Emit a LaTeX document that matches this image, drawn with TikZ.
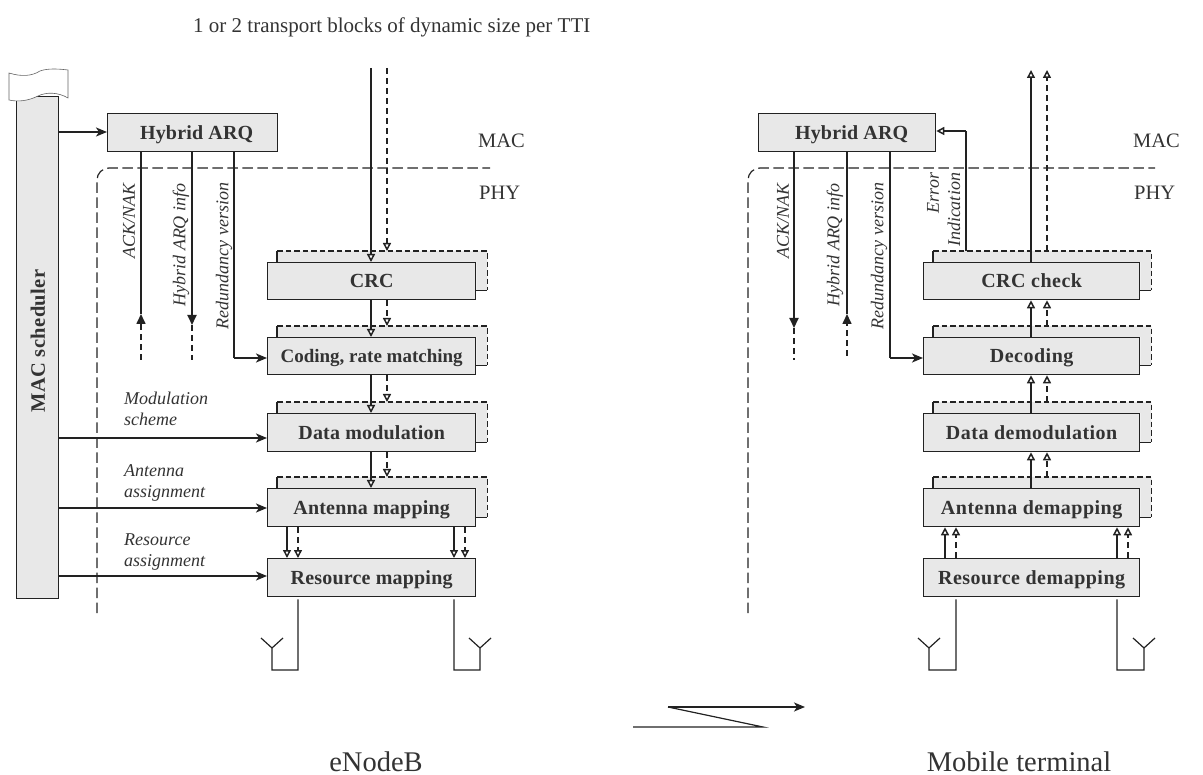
\documentclass[tikz,border=0pt]{standalone}
\usepackage{fontspec}
\setmainfont{Liberation Serif}
\usetikzlibrary{arrows.meta}
\definecolor{boxg}{HTML}{E8E8E8}
\definecolor{ink}{HTML}{222222}
\definecolor{txt}{HTML}{333333}
\newcommand{\boldtext}{\fontsize{20}{22}\selectfont\bfseries\addfontfeature{LetterSpace=1}}
\newcommand{\boldwide}{\fontsize{20}{22}\selectfont\bfseries\addfontfeature{LetterSpace=2.5}}
\tikzset{
  x=1pt,y=-1pt,
  box/.style={draw=ink,line width=1.3pt,fill=boxg,inner sep=0pt,text height=13pt,text depth=0pt,
     font=\boldtext,text=txt,anchor=north west},
  wbox/.style={box,font=\boldwide},
  slabel/.style={inner sep=0pt,font=\fontsize{18}{21}\selectfont\itshape,text=txt,align=left},
  rlabel/.style={inner sep=0pt,font=\fontsize{18}{21}\selectfont\itshape,text=txt,rotate=90},
  plain/.style={inner sep=0pt,font=\fontsize{20.5}{22}\selectfont,text=txt},
  big/.style={inner sep=0pt,font=\fontsize{28.5}{30}\selectfont,text=txt},
  solidline/.style={draw=ink,line width=1.9pt},
  thinline/.style={draw=ink,line width=1.2pt},
  dashline/.style={draw=ink,line width=1.6pt,dash pattern=on 6pt off 4pt},
  phyline/.style={draw=ink,line width=1.2pt,dash pattern=on 10.5pt off 4.5pt},
  backdash/.style={draw=ink,line width=1.6pt,dash pattern=on 5.5pt off 3pt},
  opentip/.style={-{Triangle[open,length=8pt,width=8pt,fill=white,line width=1.5pt]}},
  stealthtip/.style={-{Stealth[length=11pt,width=9pt,inset=3pt]}},
  filltip/.style={-{Triangle[length=10pt,width=9pt]}},
}
\newcommand{\backbox}[1]{%
  \fill[boxg] ([xshift=10pt]#1.north west) -- ([xshift=10pt,yshift=11pt]#1.north west)
     -- ([xshift=11pt,yshift=11pt]#1.north east) -- ([xshift=11pt,yshift=10pt]#1.south east)
     -- ([yshift=10pt]#1.south east) -- (#1.north east) -- cycle;
  \draw[backdash] ([xshift=10pt,yshift=11pt]#1.north west) -- ([xshift=11pt,yshift=11pt]#1.north east) -- ([xshift=11pt,yshift=10pt]#1.south east);
  \draw[thinline] ([xshift=10pt]#1.north west) -- ([xshift=10pt,yshift=11pt]#1.north west);
  \draw[thinline] ([yshift=10pt]#1.south east) -- ([xshift=11pt,yshift=10pt]#1.south east);
}
\begin{document}
\begin{tikzpicture}
\useasboundingbox (0,0) rectangle (1203,775);
% scheduler
\node[draw=ink,line width=1.3pt,fill=boxg,minimum width=42pt,minimum height=502pt,inner sep=0pt,anchor=north west] (sched) at (16,96) {};
\draw[draw=ink!70,line width=0.6pt,fill=white] (9,73) .. controls (22,77) and (32,76) .. (40,71) .. controls (48,68) and (60,69) .. (68,70) -- (68,98) .. controls (58,92) and (46,92) .. (38,96) .. controls (28,101) and (18,102) .. (9,100) -- cycle;
\node[rotate=90,inner sep=0pt,font=\fontsize{20.5}{22}\selectfont\bfseries\addfontfeature{LetterSpace=2},text=txt] (schedlabel) at (38,341) {MAC scheduler};
% text
\node[plain,font=\fontsize{21}{23}\selectfont,anchor=base west] (toptext) at (193,33) {1 or 2 transport blocks of dynamic size per TTI};
\node[plain,anchor=base west] (mac1) at (478,148) {MAC};
\node[plain,anchor=base west] (phy1) at (479,200) {PHY};
\node[plain,anchor=base west] (mac2) at (1133,148) {MAC};
\node[plain,anchor=base west] (phy2) at (1134,200) {PHY};
\node[big,anchor=base] (enb) at (376,771) {eNodeB};
\node[big,anchor=base] (ue) at (1019,771) {Mobile terminal};
% PHY border
\coordinate (pl1) at (97,613); \coordinate (pl1c) at (97,168); \coordinate (pl1e) at (490,168);
\coordinate (pl2) at (748,613); \coordinate (pl2c) at (748,168); \coordinate (pl2e) at (1155,168);
\draw[phyline,rounded corners=12pt] (pl1) -- (pl1c) -- (pl1e);
\draw[phyline,rounded corners=12pt] (pl2) -- (pl2c) -- (pl2e);
% left boxes
\node[box,minimum width=170pt,minimum height=38pt] (harq1) at (107,113) {\hspace*{8pt}Hybrid ARQ};
\node[box,minimum width=208pt,minimum height=37pt] (crc) at (267,262) {CRC};
\node[box,minimum width=208pt,minimum height=37pt,font=\fontsize{19}{21}\selectfont\bfseries] (cod) at (267,337) {Coding, rate matching};
\node[box,minimum width=208pt,minimum height=38pt] (mod) at (267,413) {Data modulation};
\node[box,minimum width=208pt,minimum height=38pt] (ant) at (267,488) {Antenna mapping};
\node[box,minimum width=208pt,minimum height=38pt] (res) at (267,558) {Resource mapping};
\backbox{crc}\backbox{cod}\backbox{mod}\backbox{ant}
% right boxes
\node[box,minimum width=177pt,minimum height=38pt] (harq2) at (758,113) {\hspace*{9pt}Hybrid ARQ};
\node[wbox,minimum width=216pt,minimum height=37pt] (crcc) at (923,262) {CRC check};
\node[wbox,minimum width=216pt,minimum height=37pt] (dec) at (923,337) {Decoding};
\node[wbox,minimum width=216pt,minimum height=38pt] (dem) at (923,413) {Data demodulation};
\node[wbox,minimum width=216pt,minimum height=38pt] (adm) at (923,488) {Antenna demapping};
\node[wbox,minimum width=216pt,minimum height=38pt] (rdm) at (923,558) {Resource demapping};
\backbox{crcc}\backbox{dec}\backbox{dem}\backbox{adm}
% guide coordinates
\coordinate (a) at (371,68); \coordinate (b) at (387,68);
\coordinate (c) at (1031,70); \coordinate (d) at (1047,70);
% left main chain
\draw[solidline,opentip] (a) -- (crc.north -| a);
\draw[dashline,opentip] (b) -- ([yshift=11pt]crc.north -| b);
\draw[solidline,opentip] (crc.south -| a) -- (cod.north -| a);
\draw[dashline,opentip] (crc.south -| b) -- ([yshift=11pt]cod.north -| b);
\draw[solidline,opentip] (cod.south -| a) -- (mod.north -| a);
\draw[dashline,opentip] (cod.south -| b) -- ([yshift=11pt]mod.north -| b);
\draw[solidline,opentip] (mod.south -| a) -- (ant.north -| a);
\draw[dashline,opentip] (mod.south -| b) -- ([yshift=11pt]ant.north -| b);
\coordinate (e) at (287,0); \coordinate (f) at (298,0); \coordinate (g) at (454,0); \coordinate (h) at (465,0);
\draw[solidline,opentip] (ant.south -| e) -- (res.north -| e);
\draw[dashline,opentip] (ant.south -| f) -- (res.north -| f);
\draw[solidline,opentip] (ant.south -| g) -- (res.north -| g);
\draw[dashline,opentip] (ant.south -| h) -- (res.north -| h);
% scheduler arrows
\coordinate (sy1) at (0,132); \coordinate (sy2) at (0,438); \coordinate (sy3) at (0,508); \coordinate (sy4) at (0,576);
\draw[solidline,stealthtip] (sched.east |- sy1) -- (harq1.west |- sy1);
\draw[solidline,stealthtip] (sched.east |- sy2) -- (mod.west |- sy2);
\draw[solidline,stealthtip] (sched.east |- sy3) -- (ant.west |- sy3);
\draw[solidline,stealthtip] (sched.east |- sy4) -- (res.west |- sy4);
% HARQ left
\coordinate (l1a) at (141,314); \coordinate (l1b) at (141,360);
\coordinate (l2a) at (192,325); \coordinate (l2b) at (192,360);
\coordinate (l3) at (234,358);
\draw[thinline] (harq1.south -| l1a) -- (l1a);
\draw[dashline,filltip] (l1b) -- (l1a);
\draw[solidline,filltip] (harq1.south -| l2a) -- (l2a);
\draw[dashline,line width=1.2pt] (l2a) -- (l2b);
\draw[thinline] (harq1.south -| l3) -- (l3);
\draw[solidline,stealthtip] (l3) -- (cod.west |- l3);
% right chain
\draw[solidline,opentip] (crcc.north -| c) -- (c);
\draw[dashline,opentip] ([yshift=11pt]crcc.north -| d) -- (d);
\draw[solidline,opentip] (dec.north -| c) -- (crcc.south -| c);
\draw[dashline,opentip] ([yshift=11pt]dec.north -| d) -- (crcc.south -| d);
\draw[solidline,opentip] (dem.north -| c) -- (dec.south -| c);
\draw[dashline,opentip] ([yshift=11pt]dem.north -| d) -- (dec.south -| d);
\draw[solidline,opentip] (adm.north -| c) -- (dem.south -| c);
\draw[dashline,opentip] ([yshift=11pt]adm.north -| d) -- (dem.south -| d);
\coordinate (i) at (945,0); \coordinate (j) at (956,0); \coordinate (k) at (1117,0); \coordinate (m) at (1128,0);
\draw[solidline,opentip] (rdm.north -| i) -- (adm.south -| i);
\draw[dashline,opentip] (rdm.north -| j) -- (adm.south -| j);
\draw[solidline,opentip] (rdm.north -| k) -- (adm.south -| k);
\draw[dashline,opentip] (rdm.north -| m) -- (adm.south -| m);
% HARQ right
\coordinate (r1a) at (794,328); \coordinate (r1b) at (794,360);
\coordinate (r2a) at (847,314); \coordinate (r2b) at (847,356);
\coordinate (r3) at (890,358); \coordinate (r4) at (966,131);
\draw[solidline,filltip] (harq2.south -| r1a) -- (r1a);
\draw[dashline,line width=1.2pt] (r1a) -- (r1b);
\draw[thinline] (harq2.south -| r2a) -- (r2a);
\draw[dashline,filltip] (r2b) -- (r2a);
\draw[thinline] (harq2.south -| r3) -- (r3);
\draw[solidline,stealthtip] (r3) -- (dec.west |- r3);
\draw[thinline] ([yshift=11pt]crcc.north -| r4) -- (r4);
\draw[solidline,opentip] (r4) -- (harq2.east |- r4);
% antennas
\coordinate (a1) at (272,670); \coordinate (a1c) at (272,648); \coordinate (a1l) at (261,638); \coordinate (a1r) at (283,638);
\coordinate (a2) at (480,670); \coordinate (a2c) at (480,648); \coordinate (a2l) at (469,638); \coordinate (a2r) at (491,638);
\coordinate (a3) at (929,670); \coordinate (a3c) at (929,648); \coordinate (a3l) at (918,638); \coordinate (a3r) at (940,638);
\coordinate (a4) at (1144,670); \coordinate (a4c) at (1144,648); \coordinate (a4l) at (1133,638); \coordinate (a4r) at (1155,638);
\draw[thinline] ([yshift=-2pt]res.south -| f) -- (f |- a1) -- (a1) -- (a1c) -- (a1l) (a1c) -- (a1r);
\draw[thinline] ([yshift=-2pt]res.south -| g) -- (g |- a2) -- (a2) -- (a2c) -- (a2l) (a2c) -- (a2r);
\draw[thinline] ([yshift=-2pt]rdm.south -| j) -- (j |- a3) -- (a3) -- (a3c) -- (a3l) (a3c) -- (a3r);
\draw[thinline] ([yshift=-2pt]rdm.south -| k) -- (k |- a4) -- (a4) -- (a4c) -- (a4l) (a4c) -- (a4r);
% radio arrow
\coordinate (z1) at (633,727); \coordinate (z2) at (763,727); \coordinate (z3) at (668,707); \coordinate (z4) at (805,707);
\draw[thinline] (z1) -- (z2) -- (z3);
\draw[solidline,stealthtip] (z3) -- (z4);
% labels
\node[rlabel] (lb1) at (129,221) {ACK/NAK};
\node[rlabel] (lb2) at (181,245) {Hybrid ARQ info};
\node[rlabel] (lb3) at (224,256) {Redundancy version};
\node[rlabel] (lb4) at (783,221) {ACK/NAK};
\node[rlabel] (lb5) at (835,245) {Hybrid ARQ info};
\node[rlabel] (lb6) at (879,256) {Redundancy version};
\node[rlabel] (lb7) at (933,193) {Error};
\node[rlabel] (lb8) at (954,210) {Indication};
\node[slabel,anchor=north west] (lm) at (124,392) {Modulation\\scheme};
\node[slabel,anchor=north west] (la) at (124,464) {Antenna\\assignment};
\node[slabel,anchor=north west] (lr) at (124,534) {Resource\\assignment};
\end{tikzpicture}
\end{document}
